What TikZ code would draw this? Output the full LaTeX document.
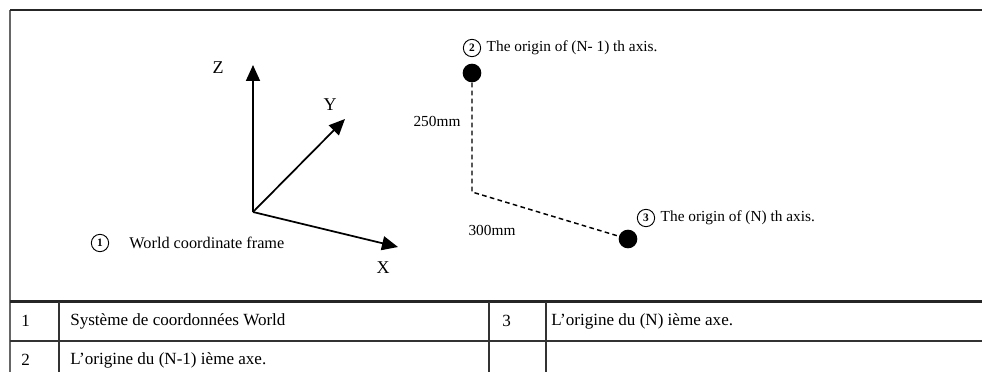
\documentclass[tikz,border=0pt]{standalone}
\usepackage{fontspec}
\setmainfont{Liberation Serif}
\usetikzlibrary{arrows.meta, positioning}

\begin{document}
\begin{tikzpicture}[
      x=0.75pt, y=0.75pt,
      font=\fontsize{11.5}{13}\selectfont,
      axis/.style={-{Triangle[length=12pt, width=10.5pt]}, line width=1.3pt},
      axislabel/.style={font=\fontsize{13.5}{15}\selectfont},
      dot/.style={circle, fill=black, minimum size=14pt, inner sep=0pt},
      numcircle/.style={circle, draw, line width=0.7pt, inner sep=0pt, minimum size=13pt, font=\fontsize{8.5}{8.5}\selectfont\bfseries},
      caption/.style={inner sep=1pt, anchor=west},
      dimline/.style={dash pattern=on 3.5pt off 2.5pt, line width=1.1pt},
      cell/.style={anchor=west, inner sep=0pt, font=\fontsize{12.8}{14}\selectfont},
      frameline/.style={draw=black!85, line width=2.2pt},
      gridline/.style={draw=black!80, line width=1.1pt}
    ]

    \useasboundingbox (0,0) rectangle (982,372);

    % Cadre et tableau
    \draw[gridline, draw=black!60] (10,362) -- (10,0);
    \draw[frameline] (10,362) -- (982,362);
    \draw[frameline] (10,70.5) -- (982,70.5);
    \draw[gridline] (10,31) -- (982,31);
    \foreach \xc in {59,489,546} \draw[gridline] (\xc,70.5) -- (\xc,0);

    % Repere World
    \coordinate (origin) at (253,160);
    \coordinate (zTip) at (253,307);
    \coordinate (yTip) at (345,253);
    \coordinate (xTip) at (398,125);
    \draw[axis] (origin) -- (zTip);
    \draw[axis] (origin) -- (yTip);
    \draw[axis] (origin) -- (xTip);
    \node[axislabel] (zLabel) at (218,304) {Z};
    \node[axislabel] (yLabel) at (330,267) {Y};
    \node[axislabel] (xLabel) at (383,104) {X};

    \node[numcircle] (numOne) at (100,129) {1};
    \node[caption, font=\fontsize{12.2}{14}\selectfont, right=14pt of numOne] (worldText) {World coordinate frame};

    % Origines des axes
    \node[dot] (prevOrigin) at (472,299) {};
    \node[dot] (nextOrigin) at (628,133) {};
    \coordinate (corner) at (472,180);
    \draw[dimline] (prevOrigin) -- (corner) -- (nextOrigin);

    \node[numcircle] (numTwo) at (472,324) {2};
    \node[caption, right=3pt of numTwo] (prevText) {The origin of (N- 1) th axis.};
    \node[numcircle] (numThree) at (646,154) {3};
    \node[caption, right=3pt of numThree] (nextText) {The origin of (N) th axis.};

    \node (vDim) at (437,251) {250mm};
    \node (hDim) at (492,142) {300mm};

    % Tableau
    \node[cell] (cellA) at (21,51) {1};
    \node[cell] (cellB) at (70,51) {Système de coordonnées World};
    \node[cell] (cellC) at (502,51) {3};
    \node[cell] (cellD) at (551,51) {L'origine du (N) ième axe.};
    \node[cell] (cellE) at (21,12) {2};
    \node[cell] (cellF) at (70,12) {L'origine du (N-1) ième axe.};

    \end{tikzpicture}
\end{document}
